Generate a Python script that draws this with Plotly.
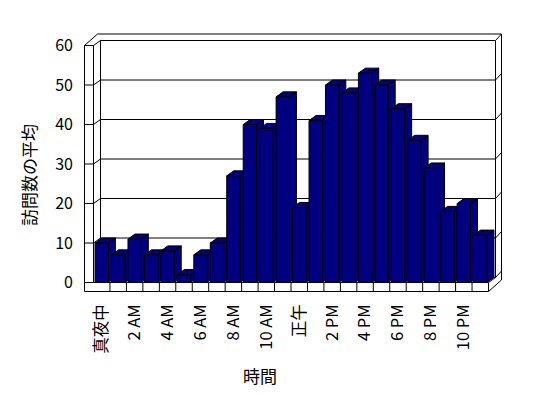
import plotly.graph_objects as go

# ---- data ----
hours = list(range(24))
tick_positions = [0, 2, 4, 6, 8, 10, 12, 14, 16, 18, 20, 22]
tick_labels = ["真夜中", "2 AM", "4 AM", "6 AM", "8 AM", "10 AM",
               "正午", "2 PM", "4 PM", "6 PM", "8 PM", "10 PM"]
visits = [10, 7, 11, 7, 8, 2, 7, 10, 27, 40, 39, 47,
          19, 41, 50, 48, 53, 50, 44, 36, 29, 18, 20, 12]
y_ticks = [0, 10, 20, 30, 40, 50, 60]
x_title = "時間"
y_title = "訪問数の平均"

# ---- geometry (pixels) ----
W, H = 548, 398
PL, PR, PT, PB = 80, 510, 30, 300          # plot area
FX0, FX1 = 93.5, 488.5                      # front plane, category edges
FY0, FY60 = 282.5, 45.5                     # front plane, value 0 and 60
DX, DY = 7, -5                              # depth offset (front -> back wall)
TX, TY = 6, -6.5                            # wall thickness offset
WALL_L = 84.5                               # left wall outer edge
FLOOR_B = 291.5                             # floor slab bottom
NAVY = "#000080"
FONT = "Noto Sans CJK JP"

NCAT = len(hours)
cw = (FX1 - FX0) / NCAT
vh = (FY0 - FY60) / 60.0


def X(px):
    return -0.5 + (px - FX0) / cw


def Y(py):
    return (FY0 - py) / vh


xr = [X(PL), X(PR)]
yr = [Y(PB), Y(PT)]

shapes = []


def seg(x0, y0, x1, y1):
    shapes.append(dict(type="line", xref="x", yref="y",
                       x0=X(x0), y0=Y(y0), x1=X(x1), y1=Y(y1),
                       line=dict(color="black", width=1), layer="below"))


BX0, BX1 = FX0 + DX, FX1 + DX              # back wall inner face
BTOP, BBOT = FY60 + DY, FY0 + DY
# outer outline
seg(WALL_L, FLOOR_B, WALL_L, FY60)
seg(WALL_L, FY60, WALL_L + DX + TX, BTOP + TY)
seg(WALL_L + DX + TX, BTOP + TY, BX1 + TX, BTOP + TY)
seg(BX1 + TX, BTOP + TY, BX1 + TX, BBOT + TY + (FLOOR_B - FY0))
seg(BX1 + TX, BBOT + TY + (FLOOR_B - FY0), FX1, FLOOR_B)
seg(FX1, FLOOR_B, WALL_L, FLOOR_B)
# left wall front face & top
seg(WALL_L, FY60, FX0, FY60)
seg(FX0, FY60, FX0, FY0)
seg(FX0, FY60, BX0, BTOP)
# back wall inner face
seg(BX0, BTOP, BX1, BTOP)
seg(BX0, BTOP, BX0, BBOT)
seg(BX1, BTOP, BX1, BBOT)
seg(BX0, BBOT, BX1, BBOT)
seg(BX1, BTOP, BX1 + TX, BTOP + TY)
# floor
seg(FX0, FY0, FX1, FY0)
seg(FX1, FY0, FX1, FLOOR_B)
seg(FX1, FY0, BX1, BBOT)
seg(BX1, BBOT, BX1 + TX, BBOT + TY)
for k in range(1, NCAT):
    xk = FX0 + k * cw
    seg(xk, FY0, xk, FLOOR_B)
# gridlines / ticks
for v in y_ticks:
    yf = FY0 - v * vh
    seg(WALL_L, yf, FX0, yf)
    if 0 < v < 60:
        seg(FX0, yf, BX0, yf + DY)
        seg(BX0, yf + DY, BX1, yf + DY)
        seg(BX1, yf + DY, BX1 + TX, yf + DY + TY)

# ---- bars ----
BW = 0.81
ddx = DX / cw
ddy = -DY / vh

fig = go.Figure()
for i, v in zip(hours, visits):
    l, r = i - BW / 2, i + BW / 2
    xs = [r, r, l, l + ddx, r + ddx, r, r + ddx, r + ddx, r]
    ys = [0, v, v, v + ddy, v + ddy, v, v + ddy, ddy, 0]
    fig.add_trace(go.Scatter(x=xs, y=ys, mode="lines", fill="toself",
                             fillcolor=NAVY, line=dict(color="black", width=1),
                             hoverinfo="skip", showlegend=False,
                             xaxis="x", yaxis="y"))

fig.add_trace(go.Bar(x=hours, y=visits, width=BW, marker=dict(
    color=NAVY, line=dict(color="black", width=1)),
    showlegend=False, xaxis="x2", yaxis="y2"))

fig.update_layout(
    width=W, height=H,
    margin=dict(l=PL, r=W - PR, t=PT, b=H - PB, pad=0),
    paper_bgcolor="white", plot_bgcolor="white",
    font=dict(family=FONT, color="black", size=16),
    shapes=shapes,
    xaxis=dict(range=xr, tickmode="array", tickvals=tick_positions,
               ticktext=tick_labels, tickangle=-90, showgrid=False,
               zeroline=False, showline=False, ticks="",
               tickfont=dict(size=16.5, family=FONT, color="#000000"),
               fixedrange=True),
    yaxis=dict(range=yr, tickmode="array", tickvals=y_ticks, showgrid=False,
               zeroline=False, showline=False, ticks="",
               ticklabelstandoff=6,
               tickfont=dict(size=16, family=FONT, color="#000000"),
               fixedrange=True),
    xaxis2=dict(range=xr, overlaying="x", visible=False, fixedrange=True),
    yaxis2=dict(range=yr, overlaying="y", visible=False, fixedrange=True),
    annotations=[
        dict(text=x_title, xref="paper", yref="paper",
             x=(260 - PL) / (PR - PL), y=(PB - 375) / (PB - PT),
             showarrow=False, xanchor="center", yanchor="middle",
             font=dict(size=17, family=FONT, color="#000000")),
        dict(text=y_title, xref="paper", yref="paper",
             x=(29 - PL) / (PR - PL), y=(PB - 175) / (PB - PT),
             showarrow=False, xanchor="center", yanchor="middle",
             textangle=-90, font=dict(size=17, family=FONT, color="#000000")),
    ],
)

fig.write_html("out.html")
